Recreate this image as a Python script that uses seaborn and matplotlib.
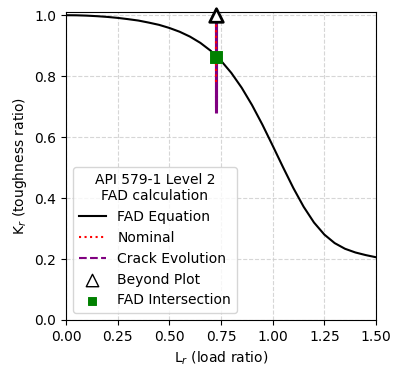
"""API 579-1 Level 2 failure assessment diagram (FAD)."""

import matplotlib
matplotlib.use("Agg")
import matplotlib.pyplot as plt
import pandas as pd
import seaborn as sns

# FAD equation curve
fad_lr = [0.00, 0.05, 0.10, 0.15, 0.20, 0.25, 0.30, 0.35, 0.40, 0.45, 0.50,
          0.55, 0.60, 0.65, 0.70, 0.75, 0.80, 0.85, 0.90, 0.95, 1.00,
          1.05, 1.10, 1.15, 1.20, 1.25, 1.30, 1.35, 1.40, 1.45, 1.50]
fad_kr = [1.000, 0.9997, 0.9986, 0.9968, 0.9944, 0.9912, 0.9871, 0.9825, 0.9758,
          0.9684, 0.9582, 0.9457, 0.9297, 0.9093, 0.8834, 0.8508, 0.8106,
          0.7621, 0.7053, 0.6413, 0.5720, 0.5014, 0.4330, 0.3713, 0.3197,
          0.2802, 0.2522, 0.2336, 0.2215, 0.2129, 0.2058]

# nominal assessment point path
nominal_lr = [0.727, 0.727, 0.727, 0.727]
nominal_kr = [0.78, 0.86, 0.94, 1.02]

# crack evolution paths (overlapping cases)
crack_case = ["a", "a", "a", "b", "b", "b", "c", "c", "c"]
crack_lr = [0.727, 0.727, 0.727, 0.727, 0.727, 0.727, 0.727, 0.727, 0.727]
crack_kr = [0.68, 0.85, 1.02, 0.698, 0.86, 1.02, 0.716, 0.88, 1.02]

# markers
beyond_lr = [0.727]
beyond_kr = [1.0]
inter_lr = [0.727]
inter_kr = [0.862]

fad = pd.DataFrame({"Lr": fad_lr, "Kr": fad_kr})
nominal = pd.DataFrame({"Lr": nominal_lr, "Kr": nominal_kr})
crack = pd.DataFrame({"case": crack_case, "Lr": crack_lr, "Kr": crack_kr})

fig = plt.figure(figsize=(4, 3.8), dpi=100)
ax = fig.add_axes([0.165, 0.158, 0.775, 0.81])

sns.lineplot(data=fad, x="Lr", y="Kr", color="black", linewidth=1.5,
             label="FAD Equation", ax=ax)
sns.lineplot(data=crack, x="Lr", y="Kr", units="case", color="purple",
             linewidth=2.2, linestyle="--", sort=False, estimator=None,
             label="Crack Evolution", ax=ax, zorder=3)
sns.lineplot(data=nominal, x="Lr", y="Kr", color="red", linewidth=1.5,
             linestyle=":", sort=False, estimator=None,
             label="Nominal", ax=ax, zorder=4)
sns.scatterplot(x=beyond_lr, y=beyond_kr, marker="^", s=95, facecolor="white",
                edgecolor="black", linewidth=2, label="Beyond Plot",
                ax=ax, zorder=5, clip_on=False)
sns.scatterplot(x=inter_lr, y=inter_kr, marker="s", s=70, color="green",
                edgecolor="green", label="FAD Intersection", ax=ax, zorder=6)

ax.set_xlim(0, 1.5)
ax.set_ylim(0, 1.01)
ax.set_xticks([0, 0.25, 0.5, 0.75, 1.0, 1.25, 1.5])
ax.set_yticks([0, 0.2, 0.4, 0.6, 0.8, 1.0])
ax.grid(True, linestyle="--", color="#cccccc", alpha=0.8)
ax.set_xlabel("L$_r$ (load ratio)")
ax.set_ylabel("K$_r$ (toughness ratio)")

handles, labels = ax.get_legend_handles_labels()
order = ["FAD Equation", "Nominal", "Crack Evolution", "Beyond Plot", "FAD Intersection"]
hmap = dict(zip(labels, handles))
leg = ax.legend([hmap[k] for k in order], order, loc="lower left",
                title="API 579-1 Level 2\nFAD calculation", alignment="center")
leg.get_title().set_multialignment("center")
hs = leg.legend_handles
hs[2].set_linewidth(1.5)
hs[3].set_sizes([80])
hs[3].set_linewidth(1.0)
hs[4].set_sizes([36])

fig.savefig("out.png", dpi=100)
